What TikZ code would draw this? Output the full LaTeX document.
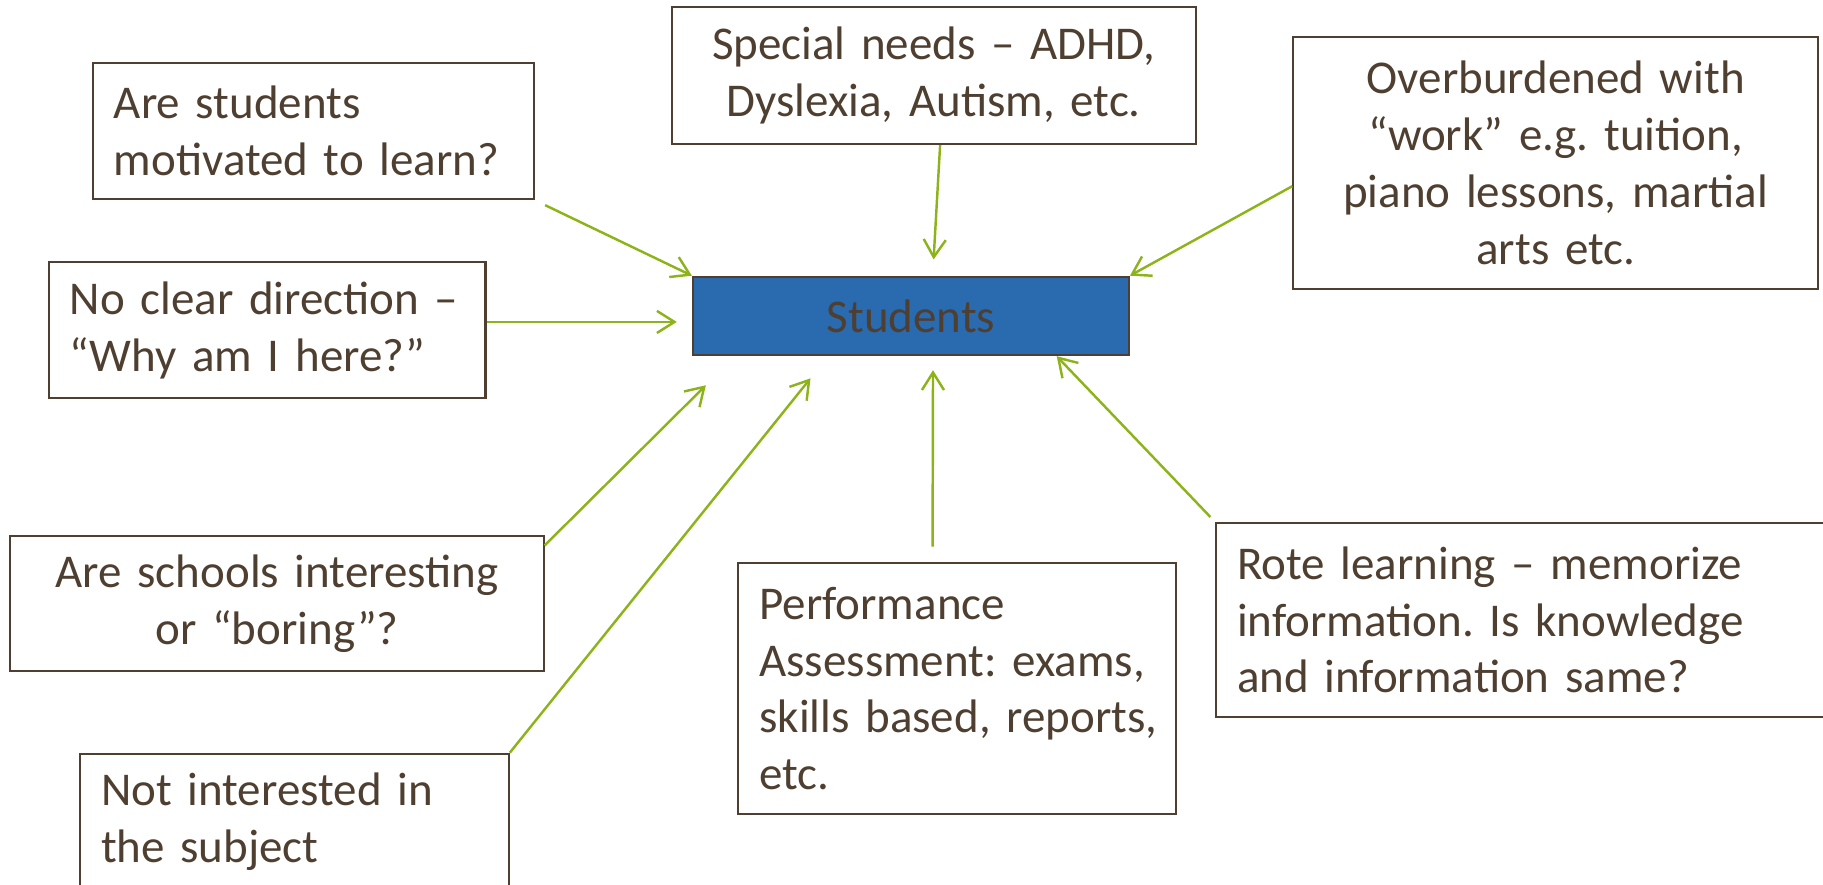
\documentclass[tikz,border=0pt]{standalone}
\usepackage{fontspec}
\setmainfont{Carlito}
\usepackage{tikz}
\usetikzlibrary{arrows.meta}

\definecolor{inkbrown}{HTML}{4E3F31}
\definecolor{linkgreen}{HTML}{8DB31A}
\definecolor{hubblue}{HTML}{2A6BB0}

\begin{document}
\begin{tikzpicture}
				\tikzset{box/.style={shape = rectangle, draw = inkbrown, line width = 0.5pt, text = inkbrown,
						font = \fontsize{11.5}{13.9}\selectfont\frenchspacing, inner xsep = 0.18cm, inner ysep = 0pt, align = center}}
				\tikzset{boxl/.style={box, align = left}}
				\tikzset{hub/.style={box, fill = hubblue, minimum width = 3.75cm, minimum height = 0.675cm}}
				\tikzset{link/.style={draw = linkgreen, line width = 0.6pt,
						-{Straight Barb[length = 4.3pt, width = 5.4pt]}}}
				\clip (0, 0) rectangle (15.68, 7.61);
				%boxes
				\node[hub] (stu) at (7.835, 4.8925) {Students};
				\node[boxl, text width = 3.43cm, minimum height = 1.173cm] (mot) at (2.695, 6.484)
					{Are students\\motivated to learn?};
				\node[box, text width = 4.15cm, minimum height = 1.176cm] (spec) at (8.031, 6.959)
					{Special needs – ADHD,\\Dyslexia, Autism, etc.};
				\node[box, text width = 4.155cm, minimum height = 2.173cm] (over) at (13.381, 6.2085)
					{Overburdened with\\“work” e.g. tuition,\\piano lessons, martial\\arts etc.};
				\node[boxl, text width = 3.396cm, minimum height = 1.163cm] (dir) at (2.298, 4.771)
					{No clear direction –\\“Why am I here?”};
				\node[box, text width = 4.226cm, minimum height = 1.164cm] (sch) at (2.383, 2.418)
					{Are schools interesting\\or “boring”?};
				\node[boxl, text width = 3.326cm, minimum height = 1.17cm] (subj) at (2.533, 0.542)
					{Not interested in\\the subject};
				\node[boxl, text width = 3.56cm, inner xsep = 0.1cm, minimum height = 2.164cm] (perf) at (8.231, 1.688)
					{\hspace*{0.08cm}Performance\\\hspace*{0.08cm}Assessment: exams,\\\hspace*{0.08cm}skills based, reports,\\\hspace*{0.08cm}etc.};
				\node[boxl, text width = 4.94cm, minimum height = 1.668cm] (rote) at (13.111, 2.277)
					{Rote learning – memorize\\information. Is knowledge\\and information same?};
				%arrows
				\coordinate (dirout) at ([yshift = 0.07cm]dir.east);
				\draw[link, shorten <= 0.1cm] (mot.south east) -- (stu.north west);
				\draw[link] ([xshift = 0.055cm]spec.south) -- ([xshift = 0.195cm, yshift = 0.14cm]stu.north);
				\draw[link] ([yshift = -0.2cm]over.west) -- (stu.north east);
				\draw[link, shorten >= 0.13cm] (dirout) -- (dirout -| stu.west);
				\draw[link] ([yshift = -0.09cm]sch.north east) -- ([xshift = 0.12cm, yshift = -0.25cm]stu.south west);
				\draw[link] (subj.north east) -- ([xshift = 1.02cm, yshift = -0.19cm]stu.south west);
				\draw[link] ([xshift = -0.21cm, yshift = 0.13cm]perf.north) -- ([xshift = 0.19cm, yshift = -0.12cm]stu.south);
				\draw[link, shorten <= 0.06cm] (rote.north west) -- ([xshift = -0.63cm]stu.south east);
\end{tikzpicture}
\end{document}
